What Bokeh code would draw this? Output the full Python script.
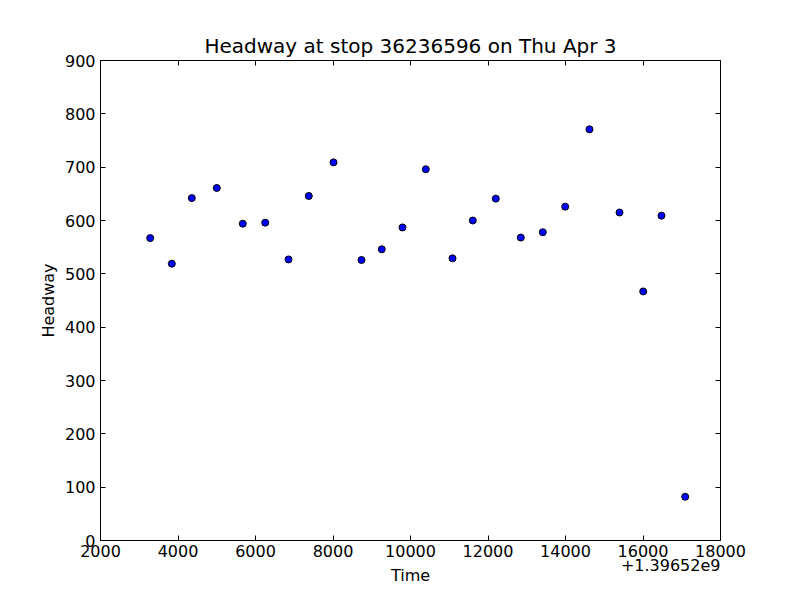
from bokeh.plotting import figure
from bokeh.models import (SingleIntervalTicker, LinearAxis, Range1d, Title,
                          CustomJSTickFormatter)
from bokeh.embed import file_html
from bokeh.resources import INLINE

TITLE = "Headway at stop 36236596 on Thu Apr 3"
X_LABEL = "Time"
Y_LABEL = "Headway"
TIME_BASE = 1396520000
TIME_BASE_LABEL = "+1.39652e9"

# seconds after TIME_BASE
time_offset = [3283, 3840, 4356, 5001, 5672, 6250, 6852, 7375, 8013, 8735,
               9259, 9794, 10395, 11084, 11608, 12201, 12846, 13414, 13992,
               14619, 15394, 16005, 16477, 17089]
headway = [567, 519, 642, 661, 594, 596, 527, 646, 709, 526, 546, 587, 696,
           529, 600, 641, 568, 578, 626, 771, 615, 467, 609, 82]

X_MIN, X_MAX, X_STEP = 2000, 18000, 2000
Y_MIN, Y_MAX, Y_STEP = 0, 900, 100

FONT = "DejaVu Sans"
TICK_SIZE = "16px"

times = [TIME_BASE + t for t in time_offset]

p = figure(frame_width=620, frame_height=480,
           min_border_left=100, min_border_right=72,
           min_border_top=60, min_border_bottom=52,
           x_range=Range1d(TIME_BASE + X_MIN, TIME_BASE + X_MAX),
           y_range=Range1d(Y_MIN, Y_MAX),
           output_backend="svg", toolbar_location=None,
           x_axis_type=None, y_axis_type=None)

p.title.text = TITLE
p.title.align = "center"
p.title.text_font = FONT
p.title.text_font_size = "20px"
p.title.text_font_style = "normal"
p.title.text_color = "black"
p.title.standoff = 6

p.background_fill_color = "white"
p.border_fill_color = "white"
p.outline_line_color = "black"
p.outline_line_width = 1
p.xgrid.visible = False
p.ygrid.visible = False

xticker = SingleIntervalTicker(interval=X_STEP, num_minor_ticks=0)
yticker = SingleIntervalTicker(interval=Y_STEP, num_minor_ticks=0)
xfmt = CustomJSTickFormatter(args=dict(base=TIME_BASE),
                             code="return (tick - base).toFixed(0);")
blank = CustomJSTickFormatter(code="return '';")


def style(ax):
    ax.axis_line_color = None
    ax.major_tick_in = 5
    ax.major_tick_out = 0
    ax.major_tick_line_color = "black"
    ax.minor_tick_line_color = None
    ax.major_label_text_font = FONT
    ax.major_label_text_color = "black"
    ax.major_label_text_font_size = TICK_SIZE
    ax.axis_label_text_font = FONT
    ax.axis_label_text_font_size = TICK_SIZE
    ax.axis_label_text_font_style = "normal"
    ax.axis_label_text_color = "black"


bottom = LinearAxis(ticker=xticker, formatter=xfmt, axis_label=X_LABEL)
style(bottom)
bottom.major_label_standoff = 4
bottom.axis_label_standoff = 6
p.add_layout(bottom, "below")

left = LinearAxis(ticker=yticker, axis_label=Y_LABEL)
style(left)
left.major_label_standoff = 5
left.axis_label_standoff = 4
p.add_layout(left, "left")

top = LinearAxis(ticker=xticker, formatter=blank)
style(top)
top.major_label_standoff = 0
p.add_layout(top, "above")

right = LinearAxis(ticker=yticker, formatter=blank)
style(right)
right.major_label_standoff = 0
p.add_layout(right, "right")

p.scatter(times, headway, size=7, fill_color="blue", line_color="black",
          line_width=1)

offset_title = Title(text=TIME_BASE_LABEL, align="right",
                     vertical_align="top",
                     text_font=FONT, text_font_size=TICK_SIZE,
                     text_font_style="normal", text_color="black",
                     standoff=-58)
p.add_layout(offset_title, "below")

open("out.html", "w").write(file_html(p, INLINE))
